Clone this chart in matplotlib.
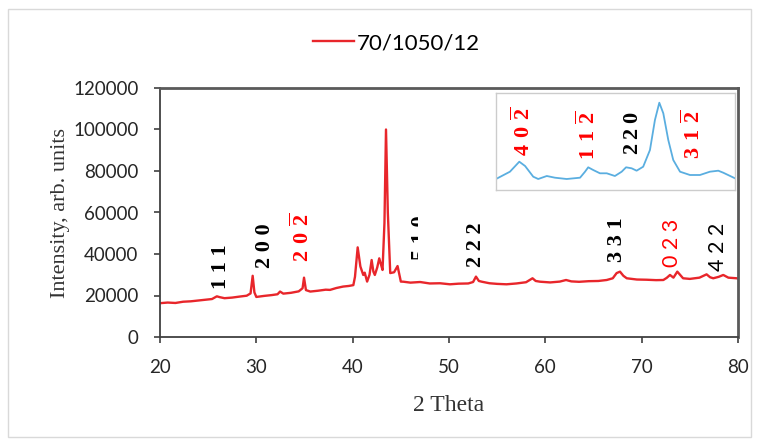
import matplotlib
matplotlib.use('Agg')
import matplotlib.pyplot as plt
from matplotlib.patches import Rectangle
from matplotlib.transforms import Bbox, TransformedBbox

# bold serif digits with overlines for the negative indices
plt.rcParams['mathtext.fontset'] = 'custom'
plt.rcParams['mathtext.rm'] = 'Liberation Serif'
plt.rcParams['mathtext.it'] = 'Liberation Serif:italic'
plt.rcParams['mathtext.bf'] = 'Liberation Serif:bold'

# XRD pattern, sample 70/1050/12 (2 theta, intensity)
two_theta = [20.0, 20.8, 21.6, 22.4, 23.2, 24.0, 24.8, 25.4, 25.9, 26.2, 26.7,
             27.5, 28.3, 29.0, 29.4, 29.62, 29.8, 30.0, 30.8, 31.6, 32.2, 32.46,
             32.8, 33.6, 34.4, 34.8, 34.95, 35.15, 35.6, 36.4, 37.2, 37.65, 38.3,
             39.0, 39.6, 40.07, 40.24, 40.52, 40.8, 41.1, 41.25, 41.5, 41.75,
             41.97, 42.15, 42.3, 42.55, 42.76, 42.9, 43.1, 43.3, 43.46, 43.65,
             43.9, 44.3, 44.66, 45.0, 45.26, 46.0, 47.0, 48.0, 49.07, 50.1, 51.0,
             52.0, 52.5, 52.8, 53.1, 53.4, 54.2, 55.0, 55.97, 57.0, 58.0, 58.67,
             59.0, 59.45, 60.5, 61.5, 62.15, 62.7, 63.5, 64.5, 65.5, 66.37, 67.0,
             67.4, 67.75, 68.1, 68.45, 69.5, 70.5, 71.5, 72.25, 72.6, 72.94, 73.3,
             73.7, 74.3, 75.0, 76.0, 76.74, 77.1, 77.43, 78.0, 78.47, 79.0, 79.86,
             80.0]
intensity = [16300, 16600, 16400, 17000, 17200, 17600, 18000, 18300, 19600, 19200,
             18700, 19000, 19500, 19900, 21000, 29500, 21500, 19300, 19800, 20200,
             20600, 21900, 20900, 21300, 22000, 23500, 28600, 22600, 21900, 22300,
             22800, 22700, 23600, 24300, 24600, 25000, 29000, 43200, 34000, 29900,
             31000, 26700, 30000, 37100, 31500, 29900, 33500, 37900, 35600, 32300,
             55000, 100000, 60000, 30800, 31200, 34200, 26700, 26650, 26200, 26500,
             25800, 25900, 25400, 25700, 25800, 26500, 29100, 27000, 26650, 25900,
             25600, 25400, 25800, 26400, 28300, 27000, 26650, 26300, 26700, 27470,
             26800, 26600, 26900, 27000, 27470, 28300, 30800, 31500, 29500, 28300,
             27700, 27600, 27400, 27470, 28500, 29900, 28600, 31500, 28300, 28000,
             28600, 30200, 28800, 28300, 29000, 29900, 28600, 28300, 28200]

# reflections marked on the main pattern
hkl_labels = ['1 1 1', '2 0 0', r'$\mathbf{2}\;\,\mathbf{0}\;\,\overline{\mathbf{2}}$',
              '2 2 2', '3 3 1', '0 2 3', '4 2 2']
hkl_x = [26.38, 30.90, 34.74, 52.80, 67.44, 73.15, 77.93]
hkl_y = [33700, 43900, 48200, 44300, 46700, 45300, 43400]
hkl_colors = ['black', 'black', 'red', 'black', 'black', 'red', 'black']
hkl_serif = [True, True, True, True, True, False, False]

# inset: enlarged region of the pattern
inset_x = [26.0, 26.70, 27.17, 27.46, 27.87, 28.12, 28.55, 28.96, 29.55, 30.22,
           30.47, 30.63, 30.88, 31.22, 31.56, 31.97, 32.31, 32.53, 32.81, 33.06,
           33.39, 33.73, 33.98, 34.20, 34.40, 34.65, 34.90, 35.24, 35.74, 36.24,
           36.74, 37.16, 37.41, 38.0]
inset_y = [1100, 1830, 2830, 2400, 1330, 1100, 1400, 1230, 1100, 1230,
           1830, 2270, 2000, 1670, 1670, 1400, 1830, 2270, 2170, 1930,
           2330, 4000, 7000, 8730, 7670, 5000, 3000, 1830, 1500, 1500,
           1830, 1930, 1730, 1170]
inset_labels = [r'$\mathbf{4}\;\,\mathbf{0}\;\,\overline{\mathbf{2}}$',
                r'$\mathbf{1}\;\,\mathbf{1}\;\,\overline{\mathbf{2}}$',
                r'$\mathbf{2}\;\mathbf{2}\;\mathbf{0}$',
                r'$\mathbf{3}\;\,\mathbf{1}\;\,\overline{\mathbf{2}}$']
inset_lx = [27.31, 30.57, 32.83, 35.84]
inset_ly = [5900, 5500, 5700, 5600]
inset_colors = ['red', 'red', 'black', 'red']

sans = 'Lato'
serif = 'Liberation Serif'
tick_color = '#262626'

fig = plt.figure(figsize=(7.58, 4.40), dpi=100)
fig.patches.append(Rectangle((8 / 758, 3 / 440), 743 / 758, 428 / 440,
                             transform=fig.transFigure, fill=False,
                             edgecolor='#d9d9d9', linewidth=1))

ax = fig.add_axes([160 / 758, 103 / 440, 578 / 758, 249 / 440])
line, = ax.plot(two_theta, intensity, color='#e8262b', lw=1.7, label='70/1050/12')
ax.set_xlim(20, 80)
ax.set_ylim(0, 120000)
ax.set_xticks(range(20, 81, 10))
ax.set_yticks(range(0, 120001, 20000))
ax.tick_params(direction='out', length=4.5, width=1.2, color='#404040',
               pad=11, labelcolor=tick_color)
for lab in ax.get_xticklabels() + ax.get_yticklabels():
    lab.set_fontfamily(sans)
    lab.set_fontsize(13.5)
for s in ['left', 'bottom']:
    ax.spines[s].set_color('#404040')
    ax.spines[s].set_linewidth(1.3)
for s in ['top', 'right']:
    ax.spines[s].set_color('#5a5a5a')
    ax.spines[s].set_linewidth(2)

ax.set_xlabel('2 Theta', fontfamily=serif, fontsize=17, color='#333333', labelpad=14)
ax.set_ylabel('Intensity, arb. units', fontfamily=serif, fontsize=16,
              color='#333333', labelpad=2)

for lab, x, y, c, is_serif in zip(hkl_labels, hkl_x, hkl_y, hkl_colors, hkl_serif):
    if is_serif:
        ax.text(x, y, lab, rotation=90, ha='center', va='center', color=c,
                fontsize=16, fontfamily=serif, fontweight='bold')
    else:
        ax.text(x, y, lab, rotation=90, ha='center', va='center', color=c,
                fontsize=15.5, fontfamily=sans)

# "5 1 0" label, only its edge shows next to the main peak
t = ax.text(47.09, 47700, '5 1 0', rotation=90, ha='center', va='center',
            color='black', fontsize=16, fontfamily=serif, fontweight='bold')
t.set_clip_box(TransformedBbox(Bbox([[40, 0], [46.83, 120000]]), ax.transData))
t.set_clip_on(True)

fig.legend(handles=[line], loc='center', bbox_to_anchor=(396 / 758, 1 - 43 / 440),
           frameon=False, prop={'family': sans, 'size': 16},
           handlelength=1.85, handletextpad=0.12)

ins = fig.add_axes([496 / 758, 250 / 440, 239 / 758, 97 / 440])
ins.plot(inset_x, inset_y, color='#5aaee0', lw=1.3)
ins.set_xlim(26, 38)
ins.set_ylim(0, 9700)
ins.set_xticks([])
ins.set_yticks([])
for s in ins.spines.values():
    s.set_color('#cccccc')
    s.set_linewidth(1)
for lab, x, y, c in zip(inset_labels, inset_lx, inset_ly, inset_colors):
    ins.text(x, y, lab, rotation=90, ha='center', va='center', color=c,
             fontsize=16)

fig.savefig('out.png', dpi=100, facecolor='white')
